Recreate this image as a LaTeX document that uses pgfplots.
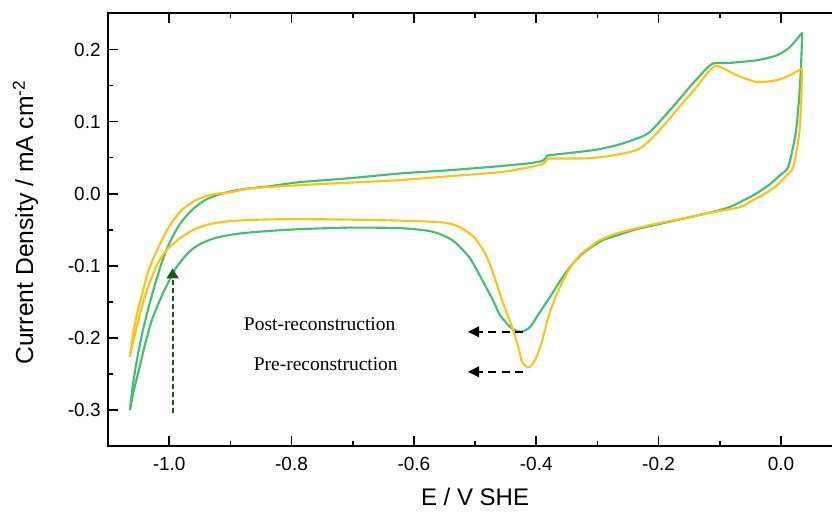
\documentclass[border=0pt]{standalone}
\usepackage{fontspec}
\setmainfont{Liberation Sans}
\newfontfamily\annfont{Liberation Serif}
\usepackage{pgfplots}
\pgfplotsset{compat=1.18}
\usetikzlibrary{arrows.meta,calc}

\definecolor{cvgreen}{RGB}{64,192,112}
\definecolor{cvyellow}{RGB}{255,194,20}
\definecolor{arrgreen}{RGB}{24,88,24}

% post-reconstruction (green): anodic sweep, then cathodic sweep
\pgfplotstableread{
x y
-1.0642 -0.3000
-1.0593 -0.2653
-1.0528 -0.2307
-1.0446 -0.1960
-1.0348 -0.1614
-1.0234 -0.1267
-1.0119 -0.0948
-0.9989 -0.0671
-0.9825 -0.0421
-0.9629 -0.0227
-0.9416 -0.0089
-0.9171 -0.0006
-0.8844 0.0057
-0.8354 0.0105
-0.7863 0.0161
-0.7046 0.0216
-0.6229 0.0281
-0.5411 0.0327
-0.4594 0.0383
-0.4103 0.0424
-0.3891 0.0459
-0.3825 0.0521
-0.3776 0.0535
-0.3073 0.0604
-0.2681 0.0674
-0.2354 0.0767
-0.2142 0.0858
-0.1815 0.1159
-0.1488 0.1482
-0.1242 0.1713
-0.1111 0.1806
-0.0834 0.1815
-0.0392 0.1852
-0.0065 0.1921
0.0147 0.2036
0.0348 0.2236
}\postan
\pgfplotstableread{
x y
0.0348 0.2236
0.0327 0.1759
0.0294 0.1297
0.0240 0.0836
0.0119 0.0373
-0.0016 0.0258
-0.0180 0.0133
-0.0392 0.0008
-0.0589 -0.0082
-0.0834 -0.0182
-0.1111 -0.0251
-0.1705 -0.0366
-0.2142 -0.0449
-0.2419 -0.0505
-0.2714 -0.0588
-0.2910 -0.0643
-0.3122 -0.0754
-0.3286 -0.0865
-0.3449 -0.1017
-0.3613 -0.1212
-0.3776 -0.1433
-0.3940 -0.1641
-0.4103 -0.1849
-0.4250 -0.1914
-0.4349 -0.1891
-0.4430 -0.1845
-0.4594 -0.1683
-0.4708 -0.1475
-0.4839 -0.1267
-0.4970 -0.1059
-0.5084 -0.0893
-0.5199 -0.0782
-0.5329 -0.0671
-0.5493 -0.0588
-0.5738 -0.0518
-0.6229 -0.0477
-0.7046 -0.0470
-0.7863 -0.0491
-0.8517 -0.0525
-0.8926 -0.0560
-0.9253 -0.0615
-0.9498 -0.0699
-0.9662 -0.0796
-0.9792 -0.0920
-0.9890 -0.1031
-1.0021 -0.1239
-1.0152 -0.1475
-1.0283 -0.1752
-1.0397 -0.2099
-1.0495 -0.2445
-1.0577 -0.2723
-1.0642 -0.3000
}\postca

% pre-reconstruction (yellow)
\pgfplotstableread{
x y
-1.0642 -0.2261
-1.0593 -0.1960
-1.0528 -0.1683
-1.0446 -0.1406
-1.0348 -0.1087
-1.0234 -0.0851
-1.0103 -0.0615
-0.9956 -0.0394
-0.9776 -0.0213
-0.9564 -0.0089
-0.9302 -0.0012
-0.8959 0.0026
-0.8681 0.0073
-0.7863 0.0119
-0.7046 0.0154
-0.6229 0.0189
-0.5411 0.0244
-0.4594 0.0299
-0.4103 0.0369
-0.3891 0.0417
-0.3809 0.0480
-0.3760 0.0489
-0.3232 0.0489
-0.2905 0.0512
-0.2578 0.0559
-0.2305 0.0628
-0.2032 0.0836
-0.1705 0.1159
-0.1378 0.1482
-0.1193 0.1686
-0.1067 0.1773
-0.0915 0.1727
-0.0724 0.1644
-0.0397 0.1551
-0.0070 0.1575
0.0147 0.1644
0.0343 0.1737
}\prean
\pgfplotstableread{
x y
0.0343 0.1737
0.0332 0.1297
0.0299 0.0836
0.0201 0.0373
0.0082 0.0244
-0.0065 0.0119
-0.0245 0.0008
-0.0458 -0.0089
-0.0670 -0.0186
-0.1111 -0.0255
-0.1597 -0.0342
-0.2142 -0.0435
-0.2686 -0.0550
-0.2959 -0.0643
-0.3122 -0.0740
-0.3286 -0.0851
-0.3449 -0.1031
-0.3613 -0.1295
-0.3776 -0.1637
-0.3858 -0.1891
-0.3940 -0.2140
-0.4038 -0.2334
-0.4131 -0.2408
-0.4234 -0.2334
-0.4267 -0.2214
-0.4376 -0.1891
-0.4540 -0.1521
-0.4703 -0.1105
-0.4806 -0.0879
-0.4867 -0.0782
-0.5002 -0.0615
-0.5166 -0.0505
-0.5329 -0.0435
-0.5575 -0.0394
-0.6229 -0.0373
-0.7046 -0.0359
-0.7863 -0.0352
-0.8517 -0.0359
-0.9008 -0.0380
-0.9335 -0.0421
-0.9580 -0.0491
-0.9776 -0.0588
-0.9940 -0.0699
-1.0070 -0.0810
-1.0201 -0.0990
-1.0316 -0.1225
-1.0414 -0.1475
-1.0495 -0.1724
-1.0561 -0.1960
-1.0610 -0.2126
-1.0642 -0.2261
}\preca

\begin{document}
\begin{tikzpicture}
\begin{axis}[
    name=ax,
    scale only axis,
    width=550.6pt, height=324.5pt,
    xmin=-1.1, xmax=0.1,
    ymin=-0.35, ymax=0.25,
    xtick={-1,-0.8,-0.6,-0.4,-0.2,0},
    ytick={-0.3,-0.2,-0.1,0,0.1,0.2},
    minor x tick num=1,
    minor y tick num=1,
    tick pos=both,
    xticklabel pos=bottom,
    yticklabel pos=left,
    tick align=inside,
    major tick length=7.5pt,
    minor tick length=3.75pt,
    every tick/.style={black, line width=1.2pt},
    axis line style={black, line width=1.5pt},
    /pgf/number format/.cd, fixed, fixed zerofill, precision=1, assume math mode=true,
    /pgfplots/.cd,
    ticklabel style={font=\fontsize{14.25pt}{17pt}\selectfont},
    xticklabel style={yshift=-5pt},
    yticklabel style={xshift=-2pt},
    xlabel={E / V SHE},
    ylabel={Current Density / mA cm\textsuperscript{-2}},
    xlabel style={font=\fontsize{18pt}{21pt}\selectfont, at={(axis description cs:0.5,0)}, anchor=base, yshift=-44.2pt},
    ylabel style={font=\fontsize{18.5pt}{21pt}\selectfont, at={(axis description cs:-0.1019,0.517)}, anchor=base, rotate=0},
    clip=false,
    every axis plot/.append style={line width=1.6pt, line join=round, smooth, tension=0.45},
]
\addplot[cvgreen] table[x=x, y=y] {\postan};
\addplot[cvgreen] table[x=x, y=y] {\postca};
\addplot[cvyellow] table[x=x, y=y] {\prean};
\addplot[cvyellow] table[x=x, y=y] {\preca};

\node[font=\annfont\fontsize{14.6pt}{17pt}\selectfont] at (axis cs:-0.754,-0.181) {Post-reconstruction};
\node[font=\annfont\fontsize{14.6pt}{17pt}\selectfont] at (axis cs:-0.744,-0.236) {Pre-reconstruction};
\draw[black, line width=1.5pt, dash pattern=on 6pt off 4pt, -{Triangle[length=8.5pt,width=8pt]}]
    (axis cs:-0.4218,-0.1914) -- (axis cs:-0.5117,-0.1914);
\draw[black, line width=1.5pt, dash pattern=on 6pt off 4pt, -{Triangle[length=8.5pt,width=8pt]}]
    (axis cs:-0.4218,-0.2469) -- (axis cs:-0.5117,-0.2469);
\draw[arrgreen, line width=1.5pt, dash pattern=on 3.5pt off 2.5pt, -{Triangle[length=7.5pt,width=9pt]}]
    (axis cs:-0.9944,-0.304) -- (axis cs:-0.9944,-0.1035);
\end{axis}
\pgfresetboundingbox
\path[use as bounding box] ($(ax.south west)+(-81pt,-49.4pt)$) rectangle ++(624pt,384pt);
\end{tikzpicture}
\end{document}
